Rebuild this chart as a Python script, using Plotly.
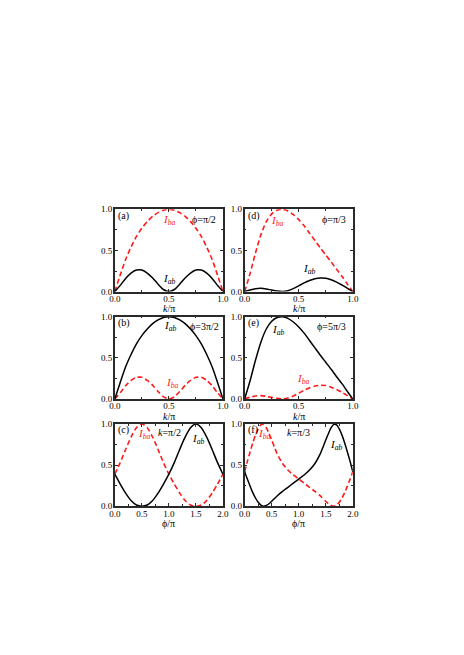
import plotly.graph_objects as go

# ---------------- data ----------------
K = [0.0, 0.05, 0.1, 0.15, 0.2, 0.25, 0.3, 0.35, 0.4, 0.45, 0.5,
     0.55, 0.6, 0.65, 0.7, 0.75, 0.8, 0.85, 0.9, 0.95, 1.0]

# (a) phi = pi/2
A_IBA = [0, 0.2, 0.39, 0.54, 0.67, 0.77, 0.85, 0.915, 0.96, 0.99, 1.0,
         0.99, 0.96, 0.915, 0.85, 0.77, 0.67, 0.54, 0.39, 0.2, 0]
A_IAB = [0, 0.075, 0.16, 0.225, 0.262, 0.262, 0.225, 0.165, 0.09, 0.025, 0,
         0.025, 0.09, 0.165, 0.225, 0.262, 0.262, 0.225, 0.16, 0.075, 0]

# (b) phi = 3pi/2
B_IAB = [0, 0.2, 0.39, 0.54, 0.67, 0.77, 0.85, 0.915, 0.96, 0.99, 1.0,
         0.99, 0.96, 0.915, 0.85, 0.77, 0.67, 0.54, 0.39, 0.2, 0]
B_IBA = [0, 0.075, 0.16, 0.225, 0.262, 0.262, 0.225, 0.165, 0.09, 0.025, 0,
         0.025, 0.09, 0.165, 0.225, 0.262, 0.262, 0.225, 0.16, 0.075, 0]

# (d) phi = pi/3
D_IBA = [0, 0.22, 0.47, 0.69, 0.85, 0.945, 0.99, 1.0, 0.98, 0.935, 0.875,
         0.80, 0.71, 0.62, 0.53, 0.445, 0.36, 0.27, 0.185, 0.09, 0]
D_IAB = [0, 0.02, 0.035, 0.04, 0.032, 0.018, 0.006, 0.0, 0.01, 0.035, 0.07,
         0.105, 0.135, 0.157, 0.166, 0.162, 0.143, 0.115, 0.08, 0.04, 0]

# (e) phi = 5pi/3
E_IAB = [0, 0.22, 0.47, 0.69, 0.85, 0.945, 0.99, 1.0, 0.98, 0.935, 0.875,
         0.80, 0.71, 0.62, 0.53, 0.445, 0.36, 0.27, 0.185, 0.09, 0]
E_IBA = [0, 0.02, 0.035, 0.04, 0.032, 0.018, 0.006, 0.0, 0.01, 0.035, 0.07,
         0.105, 0.135, 0.157, 0.166, 0.162, 0.143, 0.115, 0.08, 0.04, 0]

# (c) k = pi/2
PHI = [0.0, 0.1, 0.2, 0.3, 0.4, 0.5, 0.6, 0.7, 0.8, 0.9, 1.0,
       1.1, 1.2, 1.3, 1.4, 1.5, 1.6, 1.7, 1.8, 1.9, 2.0]
C_IAB = [0.39, 0.27, 0.16, 0.07, 0.015, 0, 0.015, 0.07, 0.16, 0.27, 0.39,
         0.53, 0.69, 0.84, 0.955, 1.0, 0.955, 0.84, 0.69, 0.53, 0.39]
C_IBA = [0.39, 0.53, 0.69, 0.84, 0.955, 1.0, 0.955, 0.84, 0.69, 0.53, 0.39,
         0.27, 0.16, 0.07, 0.015, 0, 0.015, 0.07, 0.16, 0.27, 0.39]

# (f) k = pi/3
PHI_F_AB = [0.0, 0.05, 0.1, 0.15, 0.2, 0.25, 0.3, 0.35, 0.4, 0.45, 0.5,
            0.6, 0.7, 0.8, 0.9, 1.0, 1.1, 1.2, 1.3, 1.4,
            1.45, 1.5, 1.55, 1.6, 1.65, 1.7, 1.75, 1.8, 1.85, 1.9, 1.95, 2.0]
F_IAB = [0.42, 0.33, 0.245, 0.165, 0.1, 0.048, 0.014, 0.0, 0.01, 0.03, 0.06,
         0.125, 0.18, 0.23, 0.28, 0.33, 0.38, 0.44, 0.52, 0.64,
         0.72, 0.805, 0.885, 0.955, 0.995, 0.99, 0.94, 0.865, 0.77, 0.66, 0.545, 0.42]
PHI_F_BA = [0.0, 0.05, 0.1, 0.15, 0.2, 0.25, 0.3, 0.35, 0.4, 0.45, 0.5,
            0.55, 0.6, 0.7, 0.8, 0.9, 1.0, 1.1, 1.2, 1.3, 1.4,
            1.5, 1.55, 1.6, 1.65, 1.7, 1.75, 1.8, 1.85, 1.9, 1.95, 2.0]
F_IBA = [0.42, 0.545, 0.66, 0.77, 0.865, 0.94, 0.99, 0.995, 0.955, 0.885, 0.805,
         0.72, 0.64, 0.52, 0.44, 0.38, 0.33, 0.28, 0.23, 0.18, 0.125,
         0.06, 0.03, 0.01, 0.0, 0.014, 0.048, 0.1, 0.165, 0.245, 0.33, 0.42]

Y_TICKS = [0.0, 0.5, 1.0]
K_TICKS = [0.0, 0.5, 1.0]
PHI_TICKS = [0.0, 0.5, 1.0, 1.5, 2.0]

# ---------------- layout geometry ----------------
W, H = 464, 655
COLS = [(111.7, 222.7), (245.0, 356.0)]
ROWS = [(207.5, 291.0), (316.5, 400.0), (425.5, 509.0)]

SERIF = "Liberation Serif, Times New Roman, serif"
FRAME = "#2a2a2a"
RED = "#ff1a1a"

panels = [
    dict(lab="(a)", r=0, c=0, xab=K, yab=A_IAB, xba=K, yba=A_IBA, par="ϕ=π/2", parx=0.95,
         xmax=1.0, ticks=K_TICKS, xt="<i>k</i>/π", pba=(0.507, 0.875), pab=(0.51, 0.15)),
    dict(lab="(d)", r=0, c=1, xab=K, yab=D_IAB, xba=K, yba=D_IBA, par="ϕ=π/3", parx=0.96,
         xmax=1.0, ticks=K_TICKS, xt="<i>k</i>/π", pba=(0.306, 0.86), pab=(0.6, 0.27)),
    dict(lab="(b)", r=1, c=0, xab=K, yab=B_IAB, xba=K, yba=B_IBA, par="ϕ=3π/2", parx=0.98,
         xmax=1.0, ticks=K_TICKS, xt="<i>k</i>/π", pba=(0.53, 0.19), pab=(0.516, 0.885)),
    dict(lab="(e)", r=1, c=1, xab=K, yab=E_IAB, xba=K, yba=E_IBA, par="ϕ=5π/3", parx=0.96,
         xmax=1.0, ticks=K_TICKS, xt="<i>k</i>/π", pba=(0.54, 0.24), pab=(0.31, 0.84)),
    dict(lab="(c)", r=2, c=0, xab=PHI, yab=C_IAB, xba=PHI, yba=C_IBA, par="<i>k</i>=π/2", parx=None,
         xmax=2.0, ticks=PHI_TICKS, xt="ϕ/π", pba=(0.54, 0.875), pab=(1.555, 0.82), parpos=(1.02, 0.9)),
    dict(lab="(f)", r=2, c=1, xab=PHI_F_AB, yab=F_IAB, xba=PHI_F_BA, yba=F_IBA, par="<i>k</i>=π/3", parx=None,
         xmax=2.0, ticks=PHI_TICKS, xt="ϕ/π", pba=(0.36, 0.875), pab=(1.70, 0.74), parpos=(0.99, 0.9)),
]

fig = go.Figure()
annotations = []
layout_axes = {}

for i, p in enumerate(panels, start=1):
    xa = "x" if i == 1 else f"x{i}"
    ya = "y" if i == 1 else f"y{i}"
    xl = "xaxis" if i == 1 else f"xaxis{i}"
    yl = "yaxis" if i == 1 else f"yaxis{i}"
    x0, x1 = COLS[p["c"]]
    t, b = ROWS[p["r"]]

    fig.add_trace(go.Scatter(x=p["xba"], y=p["yba"], mode="lines", xaxis=xa, yaxis=ya,
                             line=dict(color=RED, width=1.6, dash="5px,3px",
                                       shape="spline", smoothing=0.7),
                             showlegend=False, hoverinfo="skip"))
    fig.add_trace(go.Scatter(x=p["xab"], y=p["yab"], mode="lines", xaxis=xa, yaxis=ya,
                             line=dict(color="black", width=1.5, shape="spline", smoothing=0.7),
                             showlegend=False, hoverinfo="skip"))

    common = dict(showgrid=False, zeroline=False, showline=True, linewidth=1.6,
                  linecolor=FRAME, mirror="allticks", ticks="inside", ticklen=3,
                  tickwidth=1, tickcolor=FRAME,
                  tickfont=dict(family=SERIF, size=9, color="black"))
    minor = dict(ticks="inside", ticklen=2, tickwidth=1, tickcolor=FRAME, dtick=0.25, tick0=0)
    layout_axes[xl] = dict(common, domain=[x0 / W, x1 / W], range=[0, p["xmax"]],
                           anchor=ya, tickvals=p["ticks"],
                           ticktext=[f"{v:.1f}" for v in p["ticks"]],
                           ticklabelstandoff=-2, minor=minor)
    layout_axes[yl] = dict(common, domain=[1 - b / H, 1 - t / H], range=[0, 1],
                           anchor=xa, tickvals=Y_TICKS,
                           ticktext=[f"{v:.1f}" for v in Y_TICKS],
                           ticklabelstandoff=-1, minor=minor)

    xd = f"{xa} domain"
    yd = f"{ya} domain"
    ph = b - t
    annotations.append(dict(text=p["lab"], xref=xd, yref=yd, x=0.015, y=1 - 6.5 / ph,
                            xanchor="left", yanchor="middle", showarrow=False,
                            font=dict(family=SERIF, size=10, color="black")))
    if p["parx"] is not None:
        annotations.append(dict(text=p["par"], xref=xd, yref=yd, x=p["parx"], y=1 - 10 / ph,
                                xanchor="right", yanchor="middle", showarrow=False,
                                font=dict(family=SERIF, size=10, color="black")))
    else:
        annotations.append(dict(text=p["par"], xref=xa, yref=ya, x=p["parpos"][0], y=p["parpos"][1],
                                xanchor="center", yanchor="middle", showarrow=False,
                                font=dict(family=SERIF, size=10, color="black")))
    annotations.append(dict(text="<i>I</i><sub><i>ba</i></sub>", xref=xa, yref=ya,
                            x=p["pba"][0], y=p["pba"][1], showarrow=False,
                            xanchor="center", yanchor="middle",
                            font=dict(family=SERIF, size=11, color=RED)))
    annotations.append(dict(text="<i>I</i><sub><i>ab</i></sub>", xref=xa, yref=ya,
                            x=p["pab"][0], y=p["pab"][1], showarrow=False,
                            xanchor="center", yanchor="middle",
                            font=dict(family=SERIF, size=11, color="black")))
    annotations.append(dict(text=p["xt"], xref=xd, yref=yd, x=0.5, y=-17.5 / ph,
                            xanchor="center", yanchor="middle", showarrow=False,
                            font=dict(family=SERIF, size=10, color="black")))

fig.update_layout(width=W, height=H, margin=dict(l=0, r=0, t=0, b=0),
                  paper_bgcolor="white", plot_bgcolor="white",
                  annotations=annotations, **layout_axes)

fig.write_html("out.html", config={"displayModeBar": False},
               post_script="document.body.style.margin='0px';")
